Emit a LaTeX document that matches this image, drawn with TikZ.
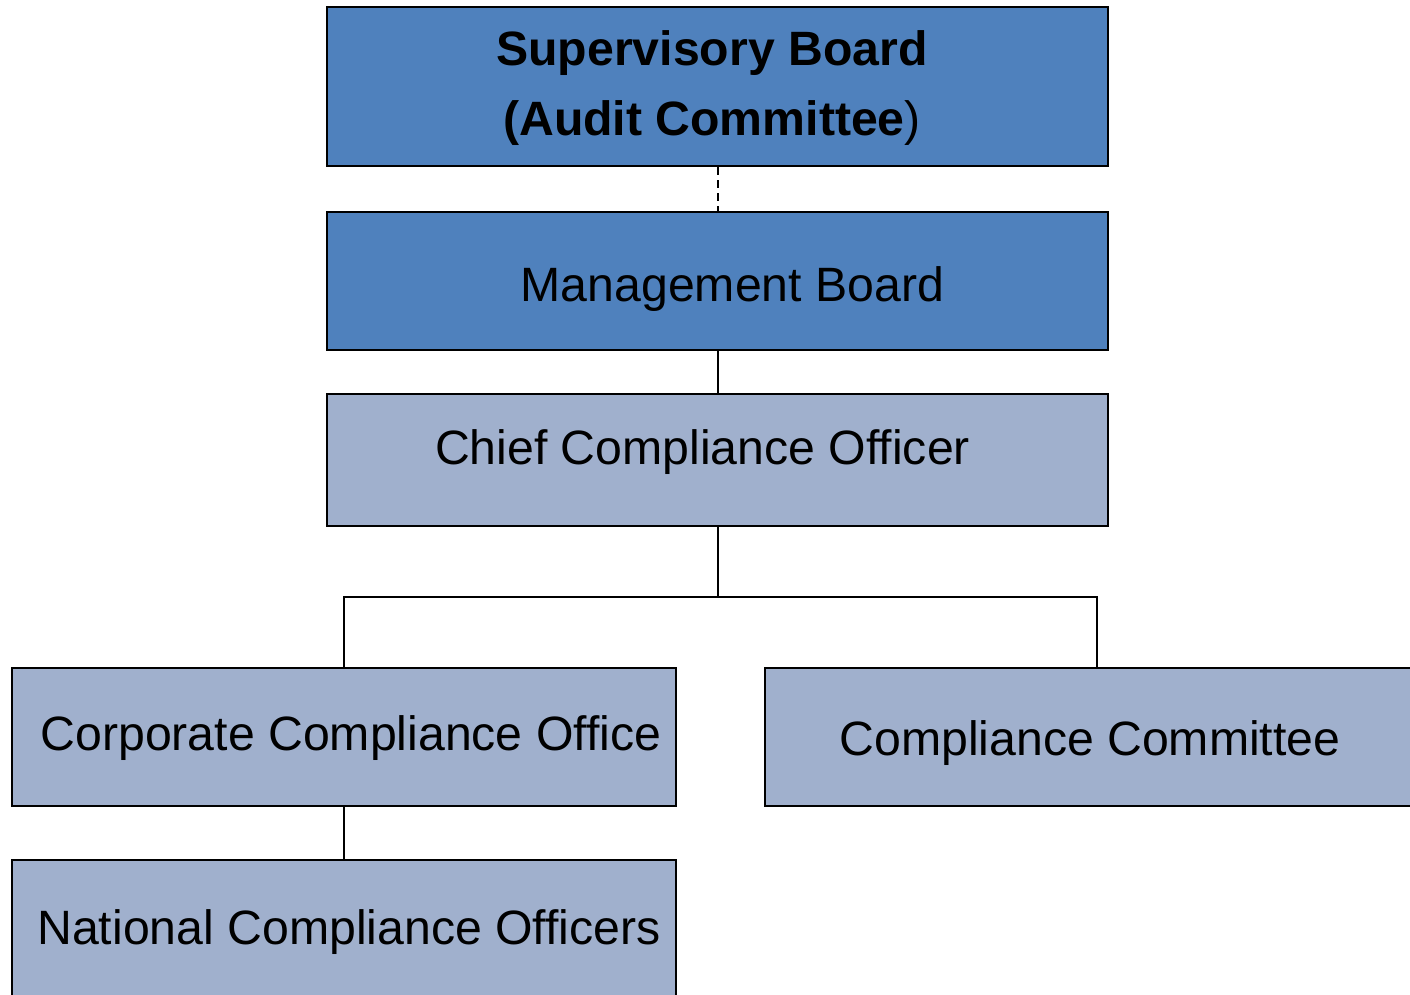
\documentclass[tikz,border=0pt]{standalone}
\usepackage{fontspec}
\setmainfont{Liberation Sans}
\definecolor{darkbox}{HTML}{4F81BD}
\definecolor{lightbox}{HTML}{A0B0CD}
\tikzset{
  orgbox/.style={draw=black, line width=2.5pt, rectangle, inner sep=0pt},
  dark/.style={orgbox, fill=darkbox},
  light/.style={orgbox, fill=lightbox},
  lbl/.style={inner sep=0pt, font=\fontsize{48.2}{58}\selectfont, text=black},
  conn/.style={draw=black, line width=2pt},
}
\begin{document}
\begin{tikzpicture}[x=1pt,y=-1pt]
\useasboundingbox (0,0) rectangle (1410,994);
\clip (0,0) rectangle (1410,994);
% boxes
\node[dark, minimum width=781pt, minimum height=159pt] (sb) at (717.5,86.5) {};
\node[dark, minimum width=781pt, minimum height=138pt] (mb) at (717.5,281) {};
\node[light, minimum width=781pt, minimum height=132pt] (cco) at (717.5,460) {};
\node[light, minimum width=664pt, minimum height=138pt] (ccoff) at (344,737) {};
\node[light, minimum width=664pt, minimum height=138pt] (cc) at (1097,737) {};
\node[light, minimum width=664pt, minimum height=150pt] (nco) at (344,935) {};
% labels
\node[lbl, font=\fontsize{48.2}{58}\selectfont\bfseries] (sbt1) at (712,53) {Supervisory Board};
\node[lbl] (sbt2) at (712,123) {\textbf{(Audit Committee}){}};
\node[lbl] (mbt) at (732.5,289) {Management Board};
\node[lbl] (ccot) at (702.5,452) {Chief Compliance Officer};
\node[lbl] (ccofft) at (351,738) {Corporate Compliance Office};
\node[lbl] (cct) at (1090,743) {Compliance Committee};
\node[lbl] (ncot) at (349,932) {National Compliance Officers};
% connectors
\coordinate (split) at (717.5,597);
\draw[conn, dash pattern=on 8pt off 5pt] (sb.south) -- (mb.north);
\draw[conn] (mb.south) -- (cco.north);
\draw[conn] (cco.south) -- (split);
\draw[conn] (ccoff.north) |- (split) -| (cc.north);
\draw[conn] (ccoff.south) -- (nco.north);
\end{tikzpicture}
\end{document}
